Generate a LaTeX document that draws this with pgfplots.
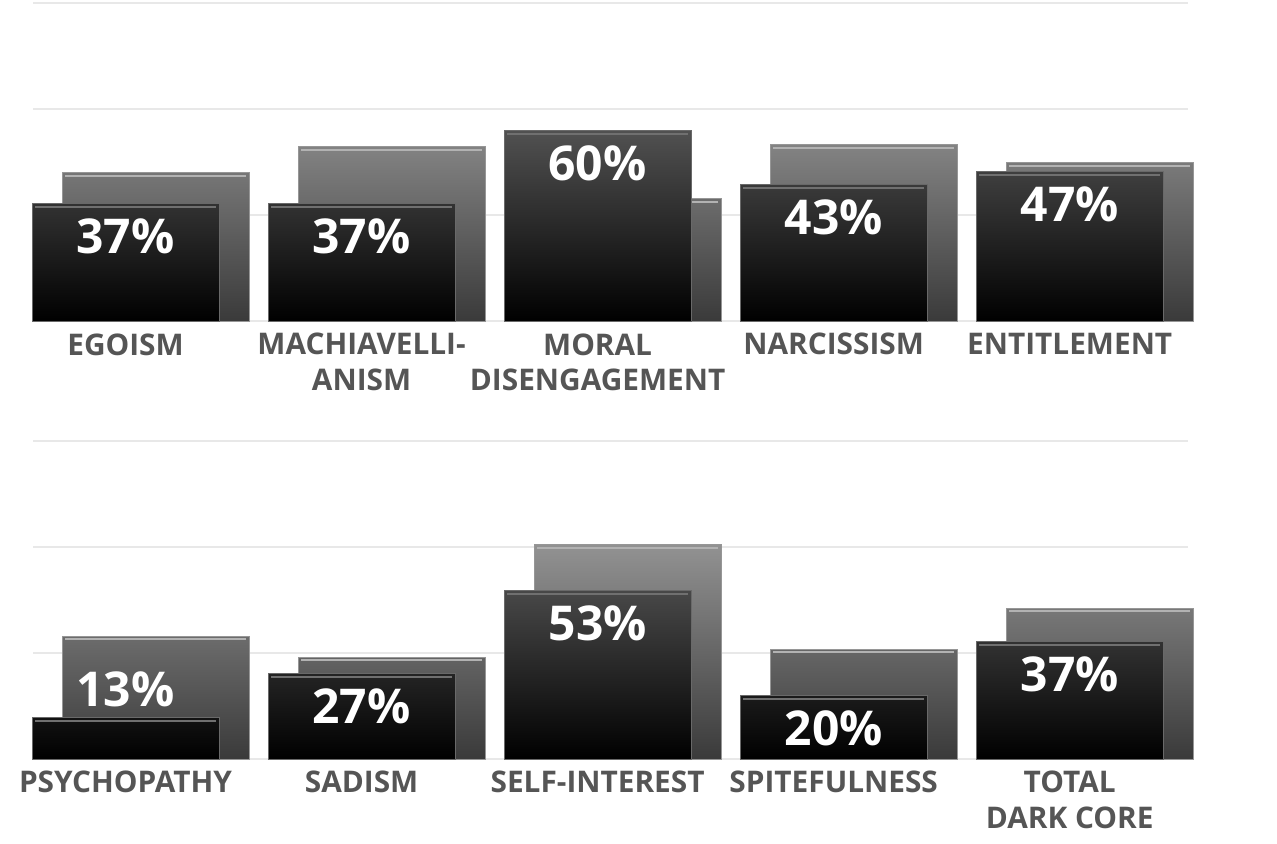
\documentclass[border=0pt]{standalone}
\usepackage{fontspec}
\setmainfont{Open Sans}
\usepackage{pgfplots}
\usepackage{pgfplotstable}
\pgfplotsset{compat=1.18}

\definecolor{gridc}{RGB}{232,232,232}
\definecolor{labc}{RGB}{85,85,85}
\definecolor{backbot}{RGB}{58,58,58}
\definecolor{frontedge}{RGB}{105,105,105}
\definecolor{backedge}{RGB}{150,150,150}
\definecolor{fronthl}{RGB}{112,112,112}
\definecolor{backhl}{RGB}{178,178,178}

\newcommand\labfont{\fontsize{14.9pt}{17.6pt}\selectfont\bfseries}
\newcommand\pctfont{\fontsize{24pt}{28pt}\selectfont\bfseries}

% front = black bar with label, back = grey bar behind it
\pgfplotstableread{
x front back
0 37 46.7
1 37 54.8
2 60 38.6
3 43 55.6
4 47 49.9
}\toptab

\pgfplotstableread{
x front back
0 13 38.7
1 27 32.1
2 53 67.4
3 20 34.6
4 37 47.5
}\bottab

\pgfplotsset{
  panel/.style={
    scale only axis, width=577.5pt, height=159.25pt,
    xmin=-0.3919, xmax=4.5012, ymin=0, ymax=100,
    clip=false, clip mode=individual, axis line style={draw=none},
    major tick length=0pt,
    ytick={0,33.333,66.667,100}, yticklabels={},
    ymajorgrids, major grid style={draw=gridc, line width=1pt},
    xtick={0,1,2,3,4},
    xticklabel style={font=\labfont, text=labc, align=center,
      anchor=north, inner sep=0pt, yshift=-5.75pt},
    /pgf/number format/assume math mode=true,
  },
  backbar/.style={ybar, bar width=93.5pt, bar shift=15pt,
    draw=backedge, line width=0.5pt,
    bottom color=backbot, top color={rgb,255:red,#1;green,#1;blue,#1}},
  frontbar/.style={ybar, bar width=93.5pt, bar shift=0pt,
    draw=frontedge, line width=0.5pt,
    bottom color=black, top color={rgb,255:red,#1;green,#1;blue,#1}},
  backhl/.style={only marks, mark=-, mark size=45.25pt,
    mark options={draw=backhl, line width=1pt, xshift=15pt, yshift=-1.6pt}},
  fronthl/.style={only marks, mark=-, mark size=45.25pt,
    mark options={draw=fronthl, line width=1pt, yshift=-1.6pt}},
  inlabel/.style={draw=none, mark=none, point meta=y,
    nodes near coords={\pgfmathprintnumber[fixed,precision=0]{\pgfplotspointmeta}\%},
    every node near coord/.append style={font=\pctfont, text=white,
      anchor=north, inner sep=0pt, yshift=-7.4pt}},
  outlabel/.style={draw=none, mark=none, point meta=y,
    nodes near coords={\pgfmathprintnumber[fixed,precision=0]{\pgfplotspointmeta}\%},
    every node near coord/.append style={font=\pctfont, text=white,
      anchor=south, inner sep=0pt, yshift=5.3pt}},
}

\begin{document}
\begin{tikzpicture}
\path[use as bounding box] (0,0) rectangle (638.5pt,-422pt);

\begin{axis}[panel, at={(16.5pt,-160.75pt)}, anchor=south west,
  xticklabels={EGOISM,{MACHIAVELLI-\\ANISM},{MORAL\\DISENGAGEMENT},NARCISSISM,ENTITLEMENT}]
  \addplot[backbar=118] coordinates {(0,46.7)};
  \addplot[backbar=130] coordinates {(1,54.8)};
  \addplot[backbar=108] coordinates {(2,38.6)};
  \addplot[backbar=131] coordinates {(3,55.6)};
  \addplot[backbar=122] coordinates {(4,49.9)};
  \addplot[backhl] table[x=x,y=back] {\toptab};
  \addplot[frontbar=50] coordinates {(0,37)};
  \addplot[frontbar=50] coordinates {(1,37)};
  \addplot[frontbar=81] coordinates {(2,60)};
  \addplot[frontbar=58] coordinates {(3,43)};
  \addplot[frontbar=63] coordinates {(4,47)};
  \addplot[fronthl] table[x=x,y=front] {\toptab};
  \addplot[inlabel] table[x=x,y=front] {\toptab};
\end{axis}

\begin{axis}[panel, at={(16.5pt,-379.65pt)}, anchor=south west,
  xticklabels={PSYCHOPATHY,SADISM,SELF-INTEREST,SPITEFULNESS,{TOTAL\\DARK CORE}}]
  \addplot[backbar=108] coordinates {(0,38.7)};
  \addplot[backbar=99] coordinates {(1,32.1)};
  \addplot[backbar=146] coordinates {(2,67.4)};
  \addplot[backbar=102] coordinates {(3,34.6)};
  \addplot[backbar=120] coordinates {(4,47.5)};
  \addplot[backhl] table[x=x,y=back] {\bottab};
  \addplot[frontbar=18] coordinates {(0,13)};
  \addplot[frontbar=36] coordinates {(1,27)};
  \addplot[frontbar=72] coordinates {(2,53)};
  \addplot[frontbar=27] coordinates {(3,20)};
  \addplot[frontbar=50] coordinates {(4,37)};
  \addplot[fronthl] table[x=x,y=front] {\bottab};
  \addplot[inlabel, restrict x to domain=0.5:4.5] table[x=x,y=front] {\bottab};
  \addplot[outlabel, restrict x to domain=-0.5:0.5] table[x=x,y=front] {\bottab};
\end{axis}
\end{tikzpicture}
\end{document}
